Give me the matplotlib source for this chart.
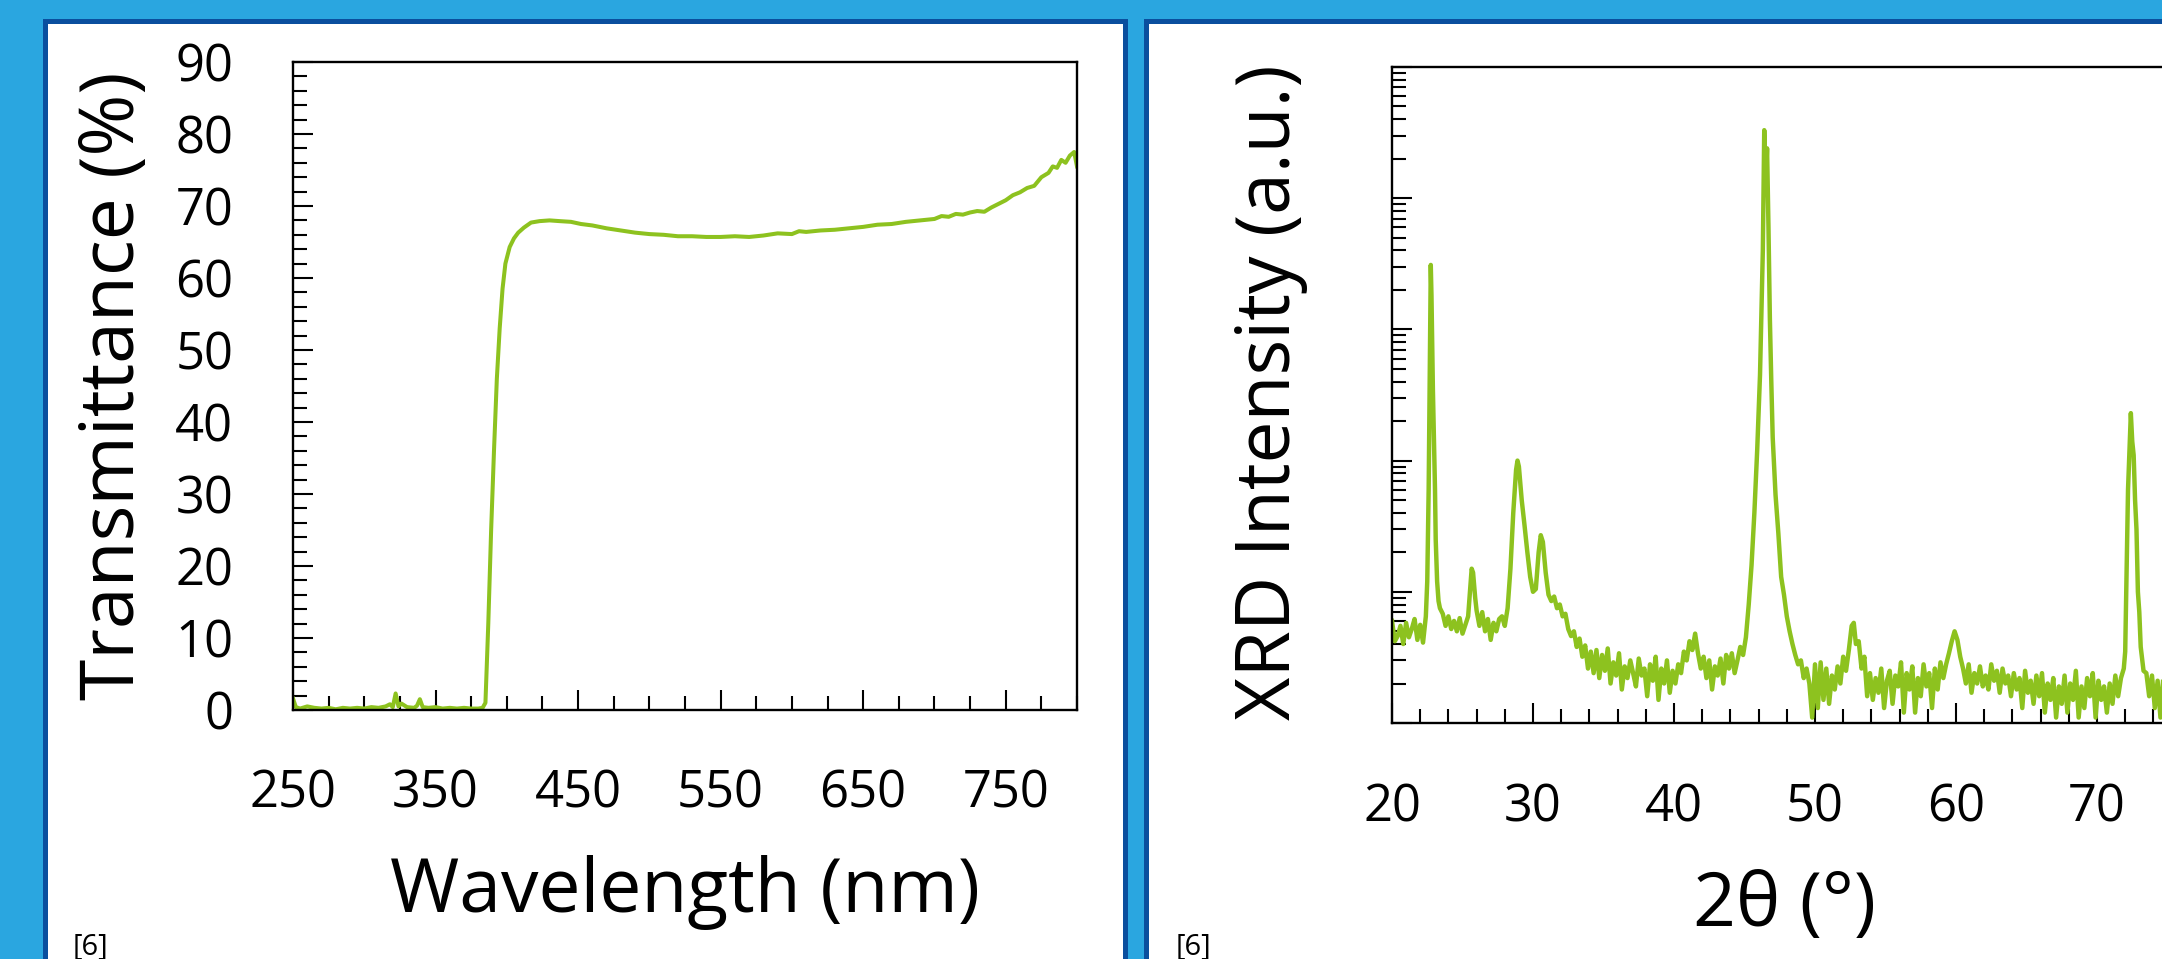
import matplotlib
matplotlib.use("Agg")
import matplotlib.pyplot as plt
from matplotlib.patches import Rectangle
from matplotlib.ticker import MultipleLocator, LogLocator, NullFormatter
import numpy as np

# ---------------- data ----------------
# UV-vis transmittance spectrum
wavelength_nm = [250, 252, 255, 260, 265, 270, 275, 280, 285, 290, 295, 300, 305, 310, 315,
                 318, 320, 322, 324, 326, 330, 335, 337, 339, 341, 345, 350, 355, 360, 365,
                 370, 375, 380, 383, 385, 387, 389, 391, 393, 395, 397, 399, 402, 405, 408,
                 412, 417, 423, 430, 437, 445, 452, 460, 470, 480, 490, 500, 510, 520, 530,
                 540, 550, 560, 570, 580, 590, 600, 605, 610, 620, 630, 640, 650, 660, 670,
                 680, 690, 700, 705, 710, 715, 720, 725, 730, 735, 740, 745, 750, 755, 760,
                 765, 770, 775, 780, 783, 786, 789, 792, 795, 798, 800]
transmittance = [1.6, 0.4, 0.2, 0.5, 0.3, 0.2, 0.3, 0.1, 0.3, 0.2, 0.3, 0.2, 0.4, 0.3, 0.5,
                 0.8, 0.4, 2.3, 0.5, 0.9, 0.4, 0.3, 0.6, 1.5, 0.4, 0.3, 0.4, 0.2, 0.3, 0.2,
                 0.3, 0.2, 0.2, 0.3, 1.0, 12.0, 25.0, 36.0, 46.0, 53.0, 58.5, 62.0, 64.3, 65.5, 66.3,
                 67.0, 67.7, 67.9, 68.0, 67.9, 67.8, 67.5, 67.3, 66.9, 66.6, 66.3, 66.1, 66.0, 65.8, 65.8,
                 65.7, 65.7, 65.8, 65.7, 65.9, 66.2, 66.1, 66.5, 66.4, 66.6, 66.7, 66.9, 67.1, 67.4, 67.5,
                 67.8, 68.0, 68.2, 68.6, 68.5, 68.9, 68.8, 69.1, 69.3, 69.2, 69.8, 70.3, 70.8, 71.5, 71.9,
                 72.5, 72.8, 74.0, 74.6, 75.5, 75.3, 76.4, 76.0, 77.0, 77.5, 75.5]

# XRD pattern (arbitrary units)
two_theta = [20.0, 20.2, 20.4, 20.6, 20.8, 21.0, 21.2, 21.4, 21.6, 21.8, 22.0, 22.2, 22.4,
             22.5, 22.6, 22.7, 22.75, 22.8, 22.9, 22.95, 23.0, 23.05, 23.1, 23.2, 23.3, 23.4,
             23.6, 23.8, 24.0, 24.2, 24.4, 24.6, 24.8, 25.0, 25.2, 25.4, 25.5, 25.65, 25.75, 25.9,
             26.0, 26.2, 26.4, 26.6, 26.8, 27.0, 27.2, 27.4, 27.6, 27.8, 28.0, 28.2, 28.4, 28.6,
             28.8, 28.9, 29.0, 29.2, 29.4, 29.6, 29.8, 30.0, 30.2, 30.4, 30.55, 30.7, 30.9, 31.1,
             31.3, 31.5, 31.7, 31.9, 32.1, 32.3, 32.5, 32.7, 32.9, 33.1, 33.3, 33.5, 33.7, 33.9,
             34.1, 34.3, 34.5, 34.7, 34.9, 35.1, 35.3, 35.5, 35.7, 35.9, 36.1, 36.3, 36.5, 36.7,
             36.9, 37.1, 37.3, 37.5, 37.7, 37.9, 38.1, 38.3, 38.5, 38.7, 38.9, 39.1, 39.3, 39.5,
             39.7, 39.9, 40.1, 40.3, 40.5, 40.7, 40.9, 41.1, 41.3, 41.5, 41.7, 41.9, 42.1, 42.3,
             42.5, 42.7, 42.9, 43.1, 43.3, 43.5, 43.7, 43.9, 44.1, 44.3, 44.5, 44.7, 44.9, 45.1,
             45.3, 45.5, 45.7, 45.9, 46.1, 46.3, 46.4, 46.5, 46.6, 46.7, 46.8, 46.9, 47.0, 47.2,
             47.4, 47.6, 47.8, 48.0, 48.2, 48.4, 48.6, 48.8, 49.0, 49.2, 49.4, 49.6, 49.8, 50.0,
             50.2, 50.4, 50.6, 50.8, 51.0, 51.2, 51.4, 51.6, 51.8, 52.0, 52.2, 52.4, 52.6, 52.75,
             52.9, 53.1, 53.3, 53.5, 53.7, 53.9, 54.1, 54.3, 54.5, 54.7, 54.9, 55.1, 55.3, 55.5,
             55.7, 55.9, 56.1, 56.3, 56.5, 56.7, 56.9, 57.1, 57.3, 57.5, 57.7, 57.9, 58.1, 58.3,
             58.5, 58.7, 58.9, 59.1, 59.3, 59.5, 59.7, 59.9, 60.1, 60.3, 60.5, 60.7, 60.9, 61.1,
             61.3, 61.5, 61.7, 61.9, 62.1, 62.3, 62.5, 62.7, 62.9, 63.1, 63.3, 63.5, 63.7, 63.9,
             64.1, 64.3, 64.5, 64.7, 64.9, 65.1, 65.3, 65.5, 65.7, 65.9, 66.1, 66.3, 66.5, 66.7,
             66.9, 67.1, 67.3, 67.5, 67.7, 67.9, 68.1, 68.3, 68.5, 68.7, 68.9, 69.1, 69.3, 69.5,
             69.7, 69.9, 70.1, 70.3, 70.5, 70.7, 70.9, 71.1, 71.3, 71.5, 71.7, 71.9, 72.0, 72.1,
             72.2, 72.3, 72.4, 72.5, 72.6, 72.7, 72.8, 72.9, 73.0, 73.1, 73.3, 73.5, 73.7, 73.9,
             74.1, 74.3, 74.5, 74.7, 74.9, 75.1]
xrd_intensity = [6.0, 4.2, 4.6, 5.5, 4.0, 5.8, 4.5, 5.2, 6.2, 4.3, 5.6, 4.1, 6.5,
                 12, 60, 900, 3100, 1800, 350, 200, 120, 60, 25, 12, 8.5, 7.5,
                 6.8, 5.5, 6.5, 5.2, 6.0, 5.0, 6.3, 4.8, 5.6, 6.5, 9.0, 15, 14, 9.0,
                 7.2, 5.5, 7.0, 5.0, 6.2, 4.3, 5.8, 5.0, 6.2, 6.5, 5.5, 7.5, 15, 40,
                 85, 100, 90, 50, 32, 20, 13, 10, 10.5, 20, 27, 24, 14, 9.5,
                 8.5, 9.2, 7.5, 8.0, 6.5, 6.8, 5.2, 4.6, 5.0, 3.8, 4.4, 3.2, 3.9, 2.6,
                 3.5, 2.4, 3.6, 2.2, 3.3, 2.5, 3.7, 2.0, 2.9, 2.3, 3.4, 1.8, 2.7, 2.2,
                 3.0, 2.4, 1.9, 3.1, 2.3, 2.6, 1.6, 2.8, 2.1, 3.2, 1.5, 2.6, 2.0, 3.0,
                 1.7, 2.5, 2.0, 2.8, 2.4, 3.5, 3.0, 4.2, 3.6, 4.8, 3.4, 2.6, 3.2, 2.2,
                 3.0, 1.8, 2.7, 2.3, 3.1, 2.0, 3.3, 2.6, 3.4, 2.4, 3.0, 3.8, 3.3, 4.5,
                 8, 16, 40, 120, 450, 4000, 33000, 12000, 24000, 6000, 1200, 400, 150, 55,
                 28, 13, 9.5, 6.5, 5.0, 4.0, 3.3, 2.8, 3.0, 2.2, 2.6, 2.0, 1.1, 2.8,
                 1.3, 2.9, 1.5, 2.6, 1.4, 2.3, 1.8, 2.7, 2.0, 3.2, 2.5, 3.6, 5.5, 5.8,
                 4.0, 4.2, 2.6, 3.2, 1.6, 2.4, 1.5, 2.2, 1.7, 2.6, 1.3, 2.1, 2.5, 1.4,
                 2.3, 1.9, 2.9, 1.2, 2.4, 1.8, 2.7, 1.2, 2.2, 1.6, 2.8, 1.9, 2.4, 1.3,
                 2.6, 1.8, 2.9, 2.2, 2.8, 3.4, 4.2, 5.0, 4.3, 3.2, 2.6, 2.0, 2.8, 1.7,
                 2.4, 2.0, 2.7, 1.9, 2.3, 1.8, 2.8, 2.1, 2.5, 1.7, 2.6, 2.0, 2.3, 1.6,
                 2.4, 1.8, 2.2, 1.3, 2.5, 1.7, 2.1, 1.4, 2.3, 1.6, 2.4, 1.2, 2.0, 1.5,
                 2.2, 1.1, 1.9, 1.4, 2.3, 1.2, 2.0, 1.5, 2.5, 1.1, 1.9, 1.3, 2.2, 1.6,
                 2.4, 1.1, 2.1, 1.5, 1.9, 1.2, 2.0, 1.4, 2.3, 1.6, 2.2, 2.6, 3.5, 14,
                 60, 120, 230, 140, 110, 50, 30, 10, 7.0, 3.8, 2.5, 2.4, 1.6, 2.3,
                 1.3, 2.1, 1.1, 2.2, 1.7, 2.0]

uv_xticks = [250, 350, 450, 550, 650, 750]
uv_yticks = [0, 10, 20, 30, 40, 50, 60, 70, 80, 90]
xrd_xticks = [20, 30, 40, 50, 60, 70]

# ---------------- style ----------------
plt.rcParams['font.family'] = ['Open Sans', 'DejaVu Sans']
LINE_GREEN = '#8DC21F'
BG_BLUE = '#2AA6E0'
EDGE_BLUE = '#0A4F9E'

W, H = 2162, 959
fig = plt.figure(figsize=(W / 100, H / 100), dpi=100, facecolor=BG_BLUE)


def px_box(x0, y0, x1, y1):
    """Figure-fraction rectangle from pixel coordinates measured from top-left."""
    return [x0 / W, 1 - y1 / H, (x1 - x0) / W, (y1 - y0) / H]


# white panels with dark-blue frames, kept behind the axes
for x0, x1 in [(44.5, 1124.5), (1145.5, 2220)]:
    fig.patches.append(Rectangle((x0 / W, -0.05), (x1 - x0) / W, 1 - 20.5 / H + 0.05,
                                 transform=fig.transFigure, facecolor='white',
                                 edgecolor=EDGE_BLUE, linewidth=3.6, zorder=-5))

TICK_FS = 36.5
LABEL_FS = 54


def style_axes(ax):
    ax.set_facecolor('none')
    for sp in ax.spines.values():
        sp.set_linewidth(1.7)
        sp.set_color('black')
    ax.tick_params(which='both', direction='in', top=False, right=False,
                   width=1.5, color='black', labelsize=TICK_FS)
    ax.tick_params(which='major', length=14.5)
    ax.tick_params(which='minor', length=10)


# ---- left: transmittance ----
ax1 = fig.add_axes(px_box(293, 62, 1077, 710))
ax1.plot(wavelength_nm, transmittance, color=LINE_GREEN, linewidth=2.9)
ax1.set_xlim(250, 800)
ax1.set_ylim(0, 90)
ax1.set_xticks(uv_xticks)
ax1.set_yticks(uv_yticks)
ax1.xaxis.set_minor_locator(MultipleLocator(25))
ax1.yaxis.set_minor_locator(MultipleLocator(2))
style_axes(ax1)
ax1.tick_params(axis='x', which='major', pad=42)
ax1.tick_params(axis='y', which='major', pad=43)
ax1.set_xlabel('Wavelength (nm)', fontsize=LABEL_FS, ha='center', va='center')
ax1.set_ylabel('Transmittance (%)', fontsize=LABEL_FS, ha='center', va='center')
ax1.xaxis.set_label_coords(0.5, -0.2824)
ax1.yaxis.set_label_coords(-0.2283, 0.5)

# ---- right: XRD ----
ax2 = fig.add_axes(px_box(1392, 67, 2238, 723))
ax2.plot(two_theta, xrd_intensity, color=LINE_GREEN, linewidth=3.2)
ax2.set_yscale('log')
ax2.set_xlim(20, 80)
ax2.set_ylim(1, 1e5)
ax2.set_xticks(xrd_xticks)
ax2.xaxis.set_minor_locator(MultipleLocator(2))
ax2.yaxis.set_major_locator(LogLocator(base=10, numticks=10))
ax2.yaxis.set_minor_locator(LogLocator(base=10, subs=np.arange(2, 10), numticks=10))
ax2.yaxis.set_major_formatter(NullFormatter())
ax2.yaxis.set_minor_formatter(NullFormatter())
style_axes(ax2)
ax2.tick_params(axis='x', which='major', pad=43)
ax2.set_xlabel('2θ (°)', fontsize=LABEL_FS, ha='center', va='center')
ax2.set_ylabel('XRD Intensity (a.u.)', fontsize=LABEL_FS, ha='center', va='center')
ax2.xaxis.set_label_coords(0.4645, -0.279)
ax2.yaxis.set_label_coords(-0.1442, 0.505)

# source markers
fig.text(73 / W, 1 - 933 / H, '[6]', fontsize=21, va='top', ha='left')
fig.text(1176 / W, 1 - 933 / H, '[6]', fontsize=21, va='top', ha='left')

fig.savefig('out.png', dpi=100, facecolor=BG_BLUE)
